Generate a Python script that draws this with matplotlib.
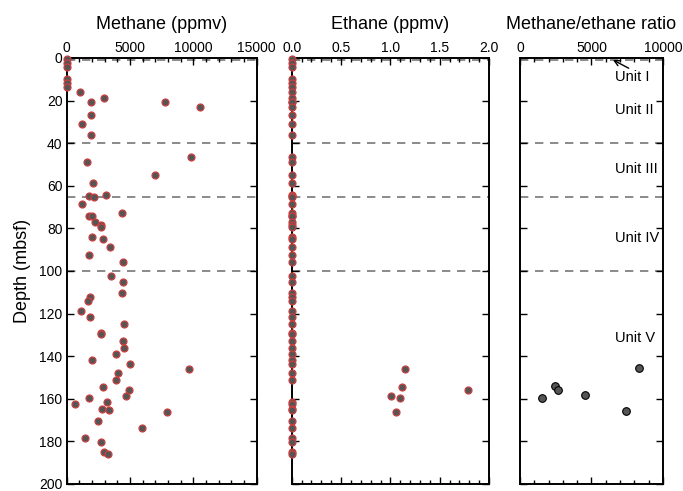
import numpy as np
import matplotlib
matplotlib.use('Agg')
import matplotlib.pyplot as plt
from matplotlib.ticker import MultipleLocator

plt.rcParams['font.family'] = ['Liberation Sans', 'DejaVu Sans']

# headspace gas samples, depth in mbsf
depth = [0.5, 2.5, 4.0, 9.7, 11.8, 13.4, 16.0, 18.8, 20.8, 20.7, 23.2, 27.0, 31.2, 36.0,
         46.4, 48.6, 55.1, 58.9, 64.3, 64.8, 65.3, 68.5, 72.8, 74.2, 74.2, 76.8, 78.2,
         79.4, 84.0, 84.9, 88.9, 92.4, 95.8, 102.2, 105.3, 110.3, 112.3, 114.3, 119.0,
         121.8, 125.1, 129.0, 129.6, 133.0, 136.0, 138.9, 141.7, 143.5, 145.8, 147.8,
         151.1, 154.5, 155.9, 158.6, 159.7, 161.7, 162.6, 164.6, 165.4, 166.2, 170.6,
         173.8, 178.6, 180.5, 184.9, 186.0]
methane = [10, 10, 10, 10, 10, 10, 1050, 2970, 1890, 7740, 10520, 1945, 1230, 1945,
           9790, 1580, 6970, 2080, 3100, 1790, 2160, 1230, 4340, 1760, 1970, 2210, 2730,
           2730, 1970, 2870, 3420, 1760, 4420, 3470, 4440, 4370, 1810, 1680, 1130,
           1840, 4500, 2730, 2680, 4470, 4520, 3870, 1970, 4970, 9660, 4020,
           3870, 2870, 4920, 4680, 1760, 3180, 680, 2820, 3320, 7940, 2450,
           5920, 1470, 2730, 2970, 3240]
ethane = [0.0] * len(depth)
ethane_hits = {145.8: 1.15, 154.5: 1.12, 155.9: 1.79, 158.6: 1.01, 159.7: 1.10, 166.2: 1.06}
for d, v in ethane_hits.items():
    ethane[depth.index(d)] = v

ratio_depth = [145.5, 154.0, 155.8, 158.2, 159.6, 165.7]
ratio = [8300, 2470, 2680, 4570, 1540, 7410]

unit_bounds = [1.0, 40.0, 65.5, 100.0]
unit_names = ['Unit I', 'Unit II', 'Unit III', 'Unit IV', 'Unit V']
unit_label_depth = [9.0, 24.3, 51.9, 84.6, 131.3]

fig = plt.figure(figsize=(6.83, 4.91), dpi=100)
bottom, height = 0.0143, 0.8676
ax1 = fig.add_axes([0.0977, bottom, 0.278, height])
ax2 = fig.add_axes([0.4271, bottom, 0.289, height])
ax3 = fig.add_axes([0.7613, bottom, 0.2094, height])

red_edge = '#c9403f'
fill = '#555555'


def style_axis(ax, xmax, major, minor, title, show_y):
    ax.set_xlim(0, xmax)
    ax.set_ylim(200, 0)
    ax.xaxis.set_major_locator(MultipleLocator(major))
    ax.xaxis.set_minor_locator(MultipleLocator(minor))
    ax.yaxis.set_major_locator(MultipleLocator(20))
    ax.tick_params(axis='x', which='both', direction='in', top=True, bottom=True,
                   labeltop=True, labelbottom=False, labelsize=10, pad=2)
    ax.tick_params(axis='x', which='major', length=5, width=1)
    ax.tick_params(axis='x', which='minor', length=3, width=1)
    ax.tick_params(axis='y', which='major', direction='in', left=True, right=True,
                   length=5, width=1, labelleft=show_y, labelsize=10, pad=3)
    for sp in ax.spines.values():
        sp.set_linewidth(1.4)
    ax.set_title(title, fontsize=13, y=1.0, pad=21)
    for b in unit_bounds:
        ax.axhline(b, color='#777777', lw=1.2, ls=(0, (5, 4)), zorder=1)


style_axis(ax1, 15000, 5000, 1000, 'Methane (ppmv)', True)
style_axis(ax2, 2.0, 0.5, 0.1, 'Ethane (ppmv)', False)
style_axis(ax3, 10000, 5000, 1000, 'Methane/ethane ratio', False)
ax2.xaxis.set_major_formatter(matplotlib.ticker.FormatStrFormatter('%.1f'))
ax1.set_ylabel('Depth (mbsf)', fontsize=13, labelpad=6)

ax1.plot(methane, depth, 'o', ms=5, mfc=fill, mec=red_edge, mew=0.9, clip_on=False, zorder=5)
ax2.plot(ethane, depth, 'o', ms=5, mfc=fill, mec=red_edge, mew=0.9, clip_on=False, zorder=5)
ax3.plot(ratio, ratio_depth, 'o', ms=5.5, mfc=fill, mec='black', mew=0.8, zorder=5)

for name, d in zip(unit_names, unit_label_depth):
    ax3.text(6640, d, name, fontsize=10.5, ha='left', va='center')
ax3.annotate('', xy=(6500, 0.9), xytext=(7600, 4.8),
             arrowprops=dict(arrowstyle='->', color='black', lw=1, shrinkA=0, shrinkB=0))

fig.savefig('out.png', dpi=100)
